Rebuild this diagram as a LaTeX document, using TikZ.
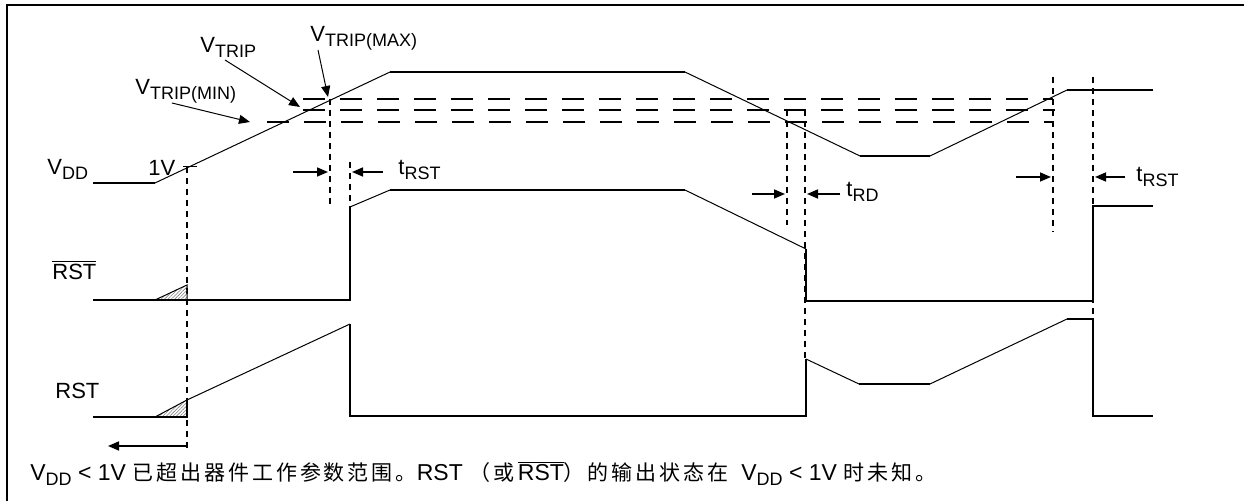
\documentclass[tikz,border=0pt]{standalone}
\usepackage{fontspec}
\setmainfont{Liberation Sans}
\newfontfamily\cjk[LetterSpace=14]{Noto Sans CJK SC}
\usetikzlibrary{arrows.meta,patterns.meta}
\newcommand{\lo}[1]{\raisebox{-2.5pt}{\fontsize{9pt}{10pt}\selectfont #1}}
\newcommand{\zh}[1]{{\cjk\fontsize{10.5pt}{12pt}\selectfont #1}}
\newcommand{\nrst}{\ensuremath{\overline{\mbox{RST}}}}
\begin{document}
\begin{tikzpicture}[x=0.5pt,y=-0.5pt,>={Triangle[length=5.5pt,width=4.5pt]},
    level/.style={line width=1pt},
    ramp/.style={line width=0.5pt},
    trip/.style={line width=1pt,dash pattern=on 11pt off 7.5pt},
    guide/.style={line width=0.9pt,dash pattern=on 3pt off 2.5pt},
    hatch/.style={line width=0.5pt,pattern={Lines[angle=45,distance=1.2pt,line width=0.3pt]},pattern color=gray},
    lbl/.style={font=\fontsize{11pt}{13pt}\selectfont,inner sep=0pt,anchor=base west}]
    \useasboundingbox (0,0) rectangle (1244,501);

    % Frame
    \draw[level] (7,501) -- (7,5.5) -- (1244,5.5);

    % Define the labels
    \node[lbl] (vdd) at (47,175) {V\lo{DD}};
    \node[lbl] (onev) at (148,176) {1V};
    \node[lbl] (rstb) at (52,280) {\nrst};
    \node[lbl] (rst) at (55,399) {RST};
    \node[lbl] (vmin) at (135,95) {V\lo{TRIP(MIN)}};
    \node[lbl] (vtrip) at (200,53) {V\lo{TRIP}};
    \node[lbl] (vmax) at (310,42) {V\lo{TRIP(MAX)}};
    \node[lbl] (trst1) at (398,175) {t\lo{RST}};
    \node[lbl] (trd) at (846,197) {t\lo{RD}};
    \node[lbl] (trst2) at (1136,182) {t\lo{RST}};
    \node[lbl,font=\fontsize{11.5pt}{13pt}\selectfont] (note) at (30,481)
        {V\lo{DD} < 1V \zh{已超出器件工作参数范围。}RST \zh{（或}\,\nrst\zh{）的输出状态在}\ \ V\lo{DD} < 1V \zh{时未知。}};

    % Define the trip points
    \coordinate (pmax) at (328,97);
    \coordinate (ptrip) at (300,107);
    \coordinate (pmin) at (250,122);

    % Draw trip levels
    \draw[trip] (303,99) -- (1053,99);
    \draw[trip] (303,110) -- (1055,110);
    \draw[trip] (267,122) -- (1053,122);

    % Draw guide lines
    \foreach \x/\a/\b in {187/167/448, 330/99/208, 350/162/207, 787/110/225,
                          805/110/359, 1053/77/232, 1093/77/319}
        \draw[guide] (\x,\a) -- (\x,\b);
    \draw[ramp] (183,167) -- (197,167);

    % Draw VDD
    \draw[level] (93,183) -- (155,183);
    \draw[ramp] (155,183) -- (390,72);
    \draw[level] (390,72) -- (685,72);
    \draw[ramp] (685,72) -- (860,156);
    \draw[level] (860,156) -- (930,156);
    \draw[ramp] (930,156) -- (1067,90);
    \draw[level] (1067,90) -- (1153,90);

    % Draw RST bar
    \draw[hatch] (155,300) -- (187,285) -- (187,300) -- cycle;
    \draw[level] (93,300) -- (350,300) -- (350,207);
    \draw[ramp] (350,207) -- (390,190);
    \draw[level] (390,190) -- (685,190);
    \draw[ramp] (685,190) -- (806,249);
    \draw[level] (806,249) -- (806,301) -- (1093,301) -- (1093,206) -- (1153,206);

    % Draw RST
    \draw[hatch] (155,417) -- (187,400) -- (187,417) -- cycle;
    \draw[level] (93,417) -- (187,417) -- (187,400);
    \draw[ramp] (187,400) -- (350,324);
    \draw[level] (350,324) -- (350,416) -- (806,416) -- (806,359);
    \draw[ramp] (806,359) -- (859,384);
    \draw[level] (859,384) -- (930,384);
    \draw[ramp] (930,384) -- (1067,319);
    \draw[level] (1067,319) -- (1093,319) -- (1093,416) -- (1153,416);

    % Draw arrows
    \draw[->,ramp] ([shift={(8,8)}]vmax.base west) -- (pmax);
    \draw[->,ramp] ([shift={(25,7)}]vtrip.base west) -- (ptrip);
    \draw[->,ramp] ([shift={(37,8)}]vmin.base west) -- (pmin);
    \foreach \a/\b/\y in {293/328/172, 383/352/172, 752/785/194, 840/807/194,
                          1016/1051/177, 1125/1095/177, 188/108/446}
        \draw[->,line width=0.8pt] (\a,\y) -- (\b,\y);
\end{tikzpicture}
\end{document}
